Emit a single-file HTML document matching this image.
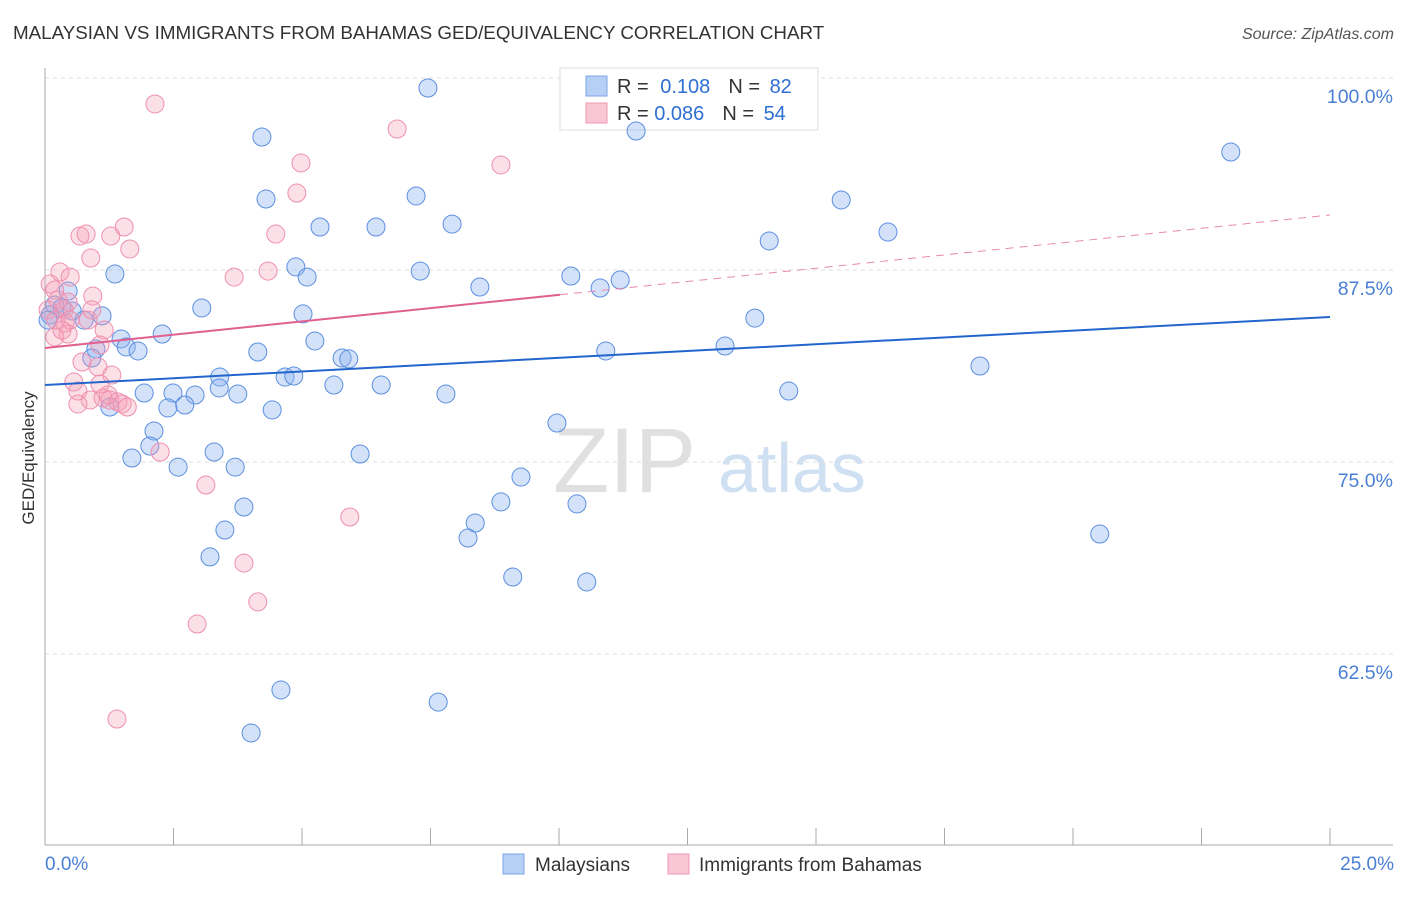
<!DOCTYPE html>
<html><head><meta charset="utf-8"><style>
body{margin:0;background:#fff;font-family:"Liberation Sans",sans-serif}
svg text{font-family:"Liberation Sans",sans-serif}
</style></head><body>
<svg id="c" width="1406" height="892" xmlns="http://www.w3.org/2000/svg">
<text x="13" y="39" font-size="18.8" fill="#333">MALAYSIAN VS IMMIGRANTS FROM BAHAMAS GED/EQUIVALENCY CORRELATION CHART</text>
<text x="1394" y="39" font-size="16" fill="#555" text-anchor="end" font-style="italic">Source: ZipAtlas.com</text>
<g>
<text x="553" y="492" font-size="92" fill="#ccc" font-family="Liberation Serif" opacity="0.6">ZIP</text>
<text x="718" y="492" font-size="70" fill="#bcd3ee" opacity="0.7">atlas</text>
</g>
<g id="grid"></g><g id="axes"></g>
<g>
<rect x="560" y="68" width="258" height="62" fill="#fff" stroke="#ddd"/>
<rect x="586" y="76" width="21" height="20" fill="#b5cff5" stroke="#7aa5e6"/>
<rect x="586" y="103" width="21" height="20" fill="#f9c6d5" stroke="#ee98b3"/>
<text x="617" y="93" font-size="20" fill="#333">R = <tspan fill="#2e6fd1" dx="6">0.108</tspan><tspan dx="18">N = </tspan><tspan fill="#2e6fd1" dx="4">82</tspan></text>
<text x="617" y="120" font-size="20" fill="#333">R = <tspan fill="#2e6fd1">0.086</tspan><tspan dx="18">N = </tspan><tspan fill="#2e6fd1" dx="4">54</tspan></text>
</g>
<g id="pts"></g><g id="lines"></g>
<text transform="translate(34,458) rotate(-90)" font-size="17" fill="#333" text-anchor="middle">GED/Equivalency</text>
<text x="45" y="870" font-size="19" fill="#4a7fd4">0.0%</text>
<text x="1394" y="870" font-size="19" fill="#4a7fd4" text-anchor="end">25.0%</text>
<g>
<rect x="503" y="854" width="21" height="20" fill="#b5cff5" stroke="#7aa5e6"/>
<text x="535" y="871" font-size="19" fill="#333">Malaysians</text>
<rect x="668" y="854" width="21" height="20" fill="#f9c6d5" stroke="#ee98b3"/>
<text x="699" y="871" font-size="19" fill="#333">Immigrants from Bahamas</text>
</g>
</svg>
<script>
const yTicks=[100,87.5,75,62.5];
const yTickLabels=["100.0%","87.5%","75.0%","62.5%"];
const blueX=[7.45,4.22,11.50,23.07,4.30,7.22,15.49,5.35,6.44,7.92,14.09,16.40,4.88,5.10,7.30,10.23,10.80,11.19,8.46,1.36,3.05,5.02,13.81,0.45,0.19,0.33,0.53,0.10,1.11,0.76,0.06,1.48,2.28,0.99,1.58,1.81,0.91,4.14,5.25,5.78,5.91,10.91,13.23,18.19,3.40,4.67,4.84,1.93,2.49,3.39,2.92,3.75,5.62,6.54,7.80,14.47,2.39,2.72,1.26,4.42,2.12,2.04,1.69,3.29,2.59,3.70,6.13,9.96,9.26,3.87,8.87,10.35,3.50,8.37,8.23,3.21,20.52,9.10,10.54,4.59,7.65,4.01];
const blueY=[99.35,96.16,96.55,95.18,92.12,92.32,92.06,90.30,90.30,90.49,89.39,89.97,87.70,87.04,87.43,87.11,86.33,86.85,86.39,87.24,85.03,84.64,84.37,86.13,85.22,85.03,84.83,84.57,84.51,84.24,84.24,83.01,83.33,82.36,82.49,82.23,81.77,82.16,82.88,81.77,81.71,82.23,82.55,81.25,80.53,80.53,80.60,79.49,79.49,79.82,79.36,79.43,80.01,80.01,79.43,79.62,78.52,78.71,78.58,78.39,77.02,76.04,75.26,75.65,74.67,74.67,75.52,77.54,74.02,72.07,72.40,72.27,70.57,71.03,70.05,68.82,70.31,67.51,67.19,60.16,59.37,57.36];
const pinkX=[2.14,6.85,4.98,8.87,4.90,1.54,0.68,0.80,1.28,1.65,0.89,4.49,4.34,3.68,0.29,0.49,0.10,0.19,0.93,0.25,0.45,0.37,0.06,0.21,0.39,0.49,1.15,0.45,0.19,0.72,1.03,1.30,0.56,1.07,0.64,0.88,1.13,1.23,0.64,1.26,1.42,1.50,1.60,2.24,3.13,5.93,3.87,4.14,2.96,1.40,0.84,0.33,1.07,0.91];
const pinkY=[98.31,96.68,94.47,94.34,92.51,90.30,89.71,89.84,89.71,88.87,88.28,89.84,87.43,87.04,87.37,87.04,86.59,86.20,85.81,85.55,85.42,84.90,84.90,84.24,84.05,84.24,83.59,83.33,83.14,81.51,81.19,80.66,80.21,80.08,79.62,79.04,79.17,79.36,78.78,79.04,78.91,78.78,78.58,75.65,73.50,71.42,68.42,65.89,64.45,58.27,84.24,83.59,82.62,84.90];
const blueTrend=[80.01,84.44];   // value at x=0 and x=25
const pinkTrend=[82.42,91.08];
const pinkSolidEnd=10.02;
const NS="http://www.w3.org/2000/svg";
const X=v=>45+v/25*1285, Y=v=>78+(100-v)*15.36;
function mk(t,a,p){const e=document.createElementNS(NS,t);for(const k in a)e.setAttribute(k,a[k]);p.appendChild(e);return e;}
const grid=document.getElementById('grid'),axes=document.getElementById('axes'),pts=document.getElementById('pts'),lines=document.getElementById('lines');
yTicks.forEach((t,i)=>{
 const l=mk('line',{x1:45,x2:1393,y1:Y(t),y2:Y(t),stroke:'#ddd','stroke-dasharray':'4,4'},grid);
 
 
 const tx=mk('text',{x:1393,y:Y(t)+25,'font-size':19.5,fill:'#4a7fd4','text-anchor':'end'},grid);
 tx.textContent=yTickLabels[i];
 
 
});
const ya=mk('line',{x1:45,x2:45,y1:68,y2:845,stroke:'#aaa'},axes);


const xa=mk('line',{x1:45,x2:1393,y1:845,y2:845,stroke:'#aaa'},axes);


for(let i=0;i<=10;i++){const tk=mk('line',{x1:X(i*2.5),x2:X(i*2.5),y1:828,y2:845,stroke:'#aaa'},axes);
 
 }
blueX.forEach((x,i)=>{const c=mk('circle',{cx:X(x),cy:Y(blueY[i]),r:9,fill:'rgba(140,180,240,0.38)',stroke:'#5b8fe0','stroke-width':1},pts);
 
 });
pinkX.forEach((x,i)=>{const c=mk('circle',{cx:X(x),cy:Y(pinkY[i]),r:9,fill:'rgba(245,160,185,0.32)',stroke:'#ee8fae','stroke-width':1},pts);
 
 });
const bt=mk('line',{x1:X(0),y1:Y(blueTrend[0]),x2:X(25),y2:Y(blueTrend[1]),stroke:'#2266cc','stroke-width':2},lines);


const pv=x=>pinkTrend[0]+(pinkTrend[1]-pinkTrend[0])*x/25;
const ps=mk('line',{x1:X(0),y1:Y(pv(0)),x2:X(pinkSolidEnd),y2:Y(pv(pinkSolidEnd)),stroke:'#e06090','stroke-width':2},lines);


const pd=mk('line',{x1:X(pinkSolidEnd),y1:Y(pv(pinkSolidEnd)),x2:X(25),y2:Y(pv(25)),stroke:'#e88aa8','stroke-width':1,'stroke-dasharray':'8,6'},lines);


</script>
</body></html>
